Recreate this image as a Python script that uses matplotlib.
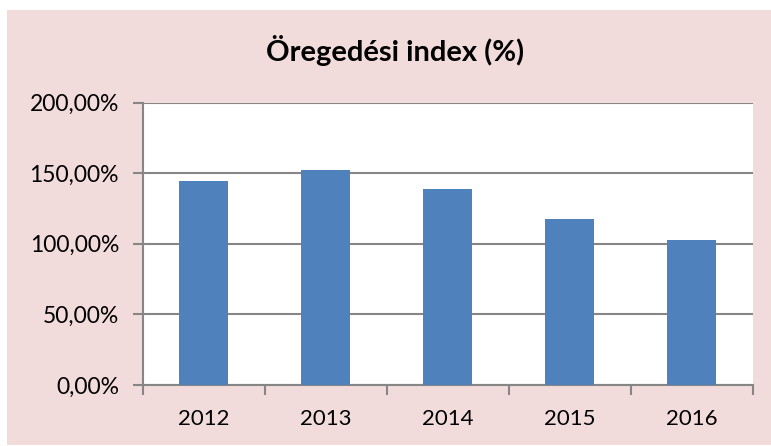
import matplotlib
matplotlib.use("Agg")
import matplotlib.pyplot as plt
import matplotlib.patches as mpatches
from matplotlib.ticker import FuncFormatter, FixedLocator

# ---- Données ----------------------------------------------
annees = ["2012", "2013", "2014", "2015", "2016"]
index_pct = [144.7, 152.5, 139.0, 117.5, 103.0]
titre = "Öregedési index (%)"

fond = "#f2dcdb"
bleu = "#4f81bd"
gris = "#868686"

plt.rcParams["font.family"] = ["Lato", "DejaVu Sans"]

fig = plt.figure(figsize=(7.71, 4.46), dpi=100)
fig.patch.set_facecolor("white")

# zone rose du graphique (derrière les axes)
fig.patches.append(mpatches.Rectangle(
    (7 / 771, 1 / 446), 1 - 7 / 771, 435 / 446,
    transform=fig.transFigure, facecolor=fond, edgecolor="none", zorder=-5))

ax = fig.add_axes([142.7 / 771, 1 - 385 / 446, 610 / 771, 282.5 / 446])
ax.set_facecolor("white")

x = list(range(len(annees)))
ax.bar(x, index_pct, width=0.4, color=bleu, zorder=3)

ax.set_xlim(-0.5, len(annees) - 0.5)
ax.set_ylim(0, 200)
ax.set_yticks([0, 50, 100, 150, 200])
ax.yaxis.set_major_formatter(FuncFormatter(lambda v, p: f"{v:.2f}%".replace(".", ",")))
ax.grid(axis="y", color=gris, linewidth=1.5, zorder=1)
ax.set_axisbelow(True)

ax.set_xticks(x)
ax.set_xticklabels(annees)
ax.xaxis.set_minor_locator(FixedLocator([i - 0.5 for i in range(len(annees) + 1)]))
ax.tick_params(axis="x", which="major", length=0, pad=17, labelsize=16)
ax.tick_params(axis="x", which="minor", length=7, width=1.5, color=gris)
ax.tick_params(axis="y", length=7, width=1.5, color=gris, pad=10, labelsize=16.5)

for s in ["top", "right"]:
    ax.spines[s].set_visible(False)
for s in ["left", "bottom"]:
    ax.spines[s].set_color(gris)
    ax.spines[s].set_linewidth(1.5)

fig.text(395 / 771, 1 - 50 / 446, titre, ha="center", va="center",
         fontsize=21, fontweight="bold", color="black")

fig.savefig("out.png", dpi=100, facecolor=fig.get_facecolor())
